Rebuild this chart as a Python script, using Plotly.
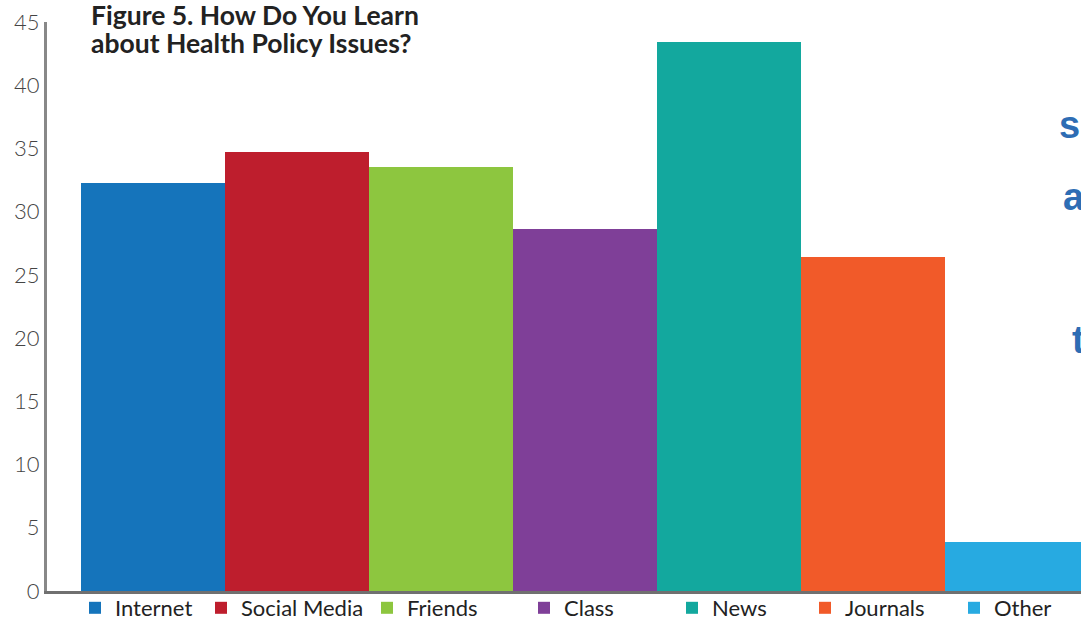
import plotly.graph_objects as go

# Dados
categorias = ['Internet', 'Social Media', 'Friends', 'Class', 'News', 'Journals', 'Other']
valores = [32.3, 34.7, 33.5, 28.6, 43.4, 26.4, 3.9]
cores = ['#1574BB', '#BE1E2D', '#8DC63F', '#7F3F98', '#13A89E', '#F15A29', '#27AAE1']
y_ticks = [0, 5, 10, 15, 20, 25, 30, 35, 40, 45]

# posição (px) do quadradinho de cada item da legenda, como no original
legenda_px = [92, 218, 384, 541, 689, 822, 971]

fig = go.Figure()
legendas = {}
for i, (cat, val, cor) in enumerate(zip(categorias, valores, cores)):
    nome_leg = 'legend' if i == 0 else f'legend{i + 1}'
    fig.add_trace(go.Bar(x=[cat], y=[val], name=cat, marker_color=cor,
                         marker_line_width=0, width=1, legend=nome_leg))
    # uma legenda por item para reproduzir o espaçamento irregular
    legendas[nome_leg] = dict(
        x=(legenda_px[i] - 3 - 14 - 47) / 1034, xanchor='left',
        y=(591 - 608) / 569, yanchor='middle',
        bgcolor='rgba(0,0,0,0)', borderwidth=0,
        font=dict(size=22, family='Lato', color='#222'),
        itemclick=False,
    )

fig.update_layout(
    width=1081, height=618,
    margin=dict(l=47, r=0, t=22, b=27, autoexpand=False),
    plot_bgcolor='white', paper_bgcolor='white',
    barmode='overlay', bargap=0,
    font=dict(family='Lato', color='#222'),
    showlegend=True,
    xaxis=dict(range=[-0.736, 6.444], showticklabels=False, showgrid=False,
               showline=True, linecolor='#707070', linewidth=3, ticks=''),
    yaxis=dict(range=[0, 45], tickvals=y_ticks, showgrid=False, zeroline=False,
               showline=True, linecolor='#888', linewidth=3, ticks='',
               tickfont=dict(size=22, family='Lato', weight=300, color='#444')),
    **legendas,
)

# Título (duas linhas, espaçamento apertado)
for linha, py in [('Figure 5. How Do You Learn', 15), ('about Health Policy Issues?', 43)]:
    fig.add_annotation(text=linha, xref='paper', yref='paper',
                       x=42 / 1034, y=(591 - py) / 569,
                       xanchor='left', yanchor='middle', showarrow=False,
                       font=dict(size=26.5, family='Lato', weight='bold', color='#222'))

# Texto cortado na borda direita
for letra, px_x, px_y in [('s', 1057, 125), ('a', 1061, 197), ('t', 1070, 340)]:
    fig.add_annotation(text=letra, xref='paper', yref='paper',
                       x=(px_x - 47) / 1034, y=(591 - px_y) / 569,
                       xanchor='left', yanchor='middle', showarrow=False,
                       font=dict(size=38, family='Liberation Sans', weight='bold', color='#2E6DB4'))

fig.write_html('out.html', config={'displayModeBar': False},
               post_script="document.body.style.margin='0';")
